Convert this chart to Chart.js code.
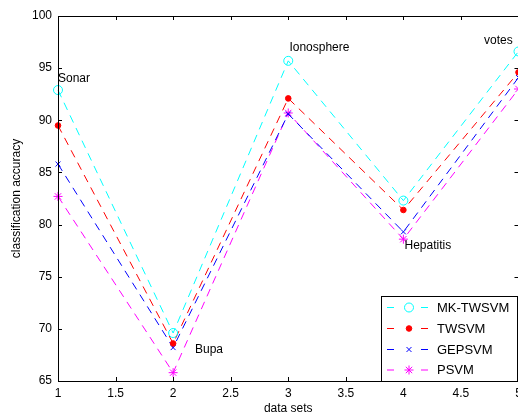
<!DOCTYPE html>
<html>
<head>
<meta charset="utf-8">
<script src="https://cdn.jsdelivr.net/npm/chart.js@4/dist/chart.umd.min.js"></script>
<style>
html,body{margin:0;padding:0;background:#fff;overflow:hidden;}
#wrap{width:524px;height:416px;}
</style>
</head>
<body>
<div id="wrap"><canvas id="c" width="524" height="416"></canvas></div>
<script>
// ---- data ----
const xPositions = [1, 2, 3, 4, 5];
const dataSetNames = ['Sonar', 'Bupa', 'Ionosphere', 'Hepatitis', 'votes'];
const mkTwsvm = [92.9, 69.6, 95.7, 82.3, 96.6];
const twsvm   = [89.5, 68.6, 92.1, 81.4, 94.6];
const gepsvm  = [85.8, 68.2, 90.6, 79.3, 94.1];
const psvm    = [82.7, 65.8, 90.7, 78.6, 93.0];
const seriesNames = ['MK-TWSVM', 'TWSVM', 'GEPSVM', 'PSVM'];
// annotation anchors (data units) for the data set names
const nameAnchorX = [1.0, 2.19, 3.01, 4.01, 4.70];
const nameAnchorY = [93.95, 68.05, 96.95, 78.0, 97.6];

const FONT = 'Liberation Sans, Arial, Helvetica, sans-serif';
const colors = ['#00FFFF', '#FF0000', '#0000FF', '#FF00FF'];
const styles = [
  {pointStyle: 'circle', radius: 4.5, fill: false},
  {pointStyle: 'circle', radius: 2.8, fill: true},
  {pointStyle: 'crossRot', radius: 3.5, fill: false},
  {pointStyle: 'star', radius: 4.5, fill: false}
];
const allSeries = [mkTwsvm, twsvm, gepsvm, psvm];

const datasets = allSeries.map((vals, i) => ({
  label: seriesNames[i],
  data: xPositions.map((x, j) => ({x: x, y: vals[j]})),
  borderColor: colors[i],
  backgroundColor: colors[i],
  borderWidth: 1,
  borderDash: [8, 6],
  pointStyle: styles[i].pointStyle,
  pointRadius: styles[i].radius,
  pointBorderWidth: 1,
  pointBorderColor: colors[i],
  pointBackgroundColor: styles[i].fill ? colors[i] : 'rgba(0,0,0,0)',
  tension: 0,
  clip: false
}));

const framePlugin = {
  id: 'frame',
  afterDatasetsDraw(chart) {
    const {ctx, chartArea: a, scales} = chart;
    ctx.save();
    ctx.strokeStyle = '#000';
    ctx.lineWidth = 1;
    ctx.setLineDash([]);
    ctx.beginPath();
    ctx.rect(Math.round(a.left) + 0.5, Math.round(a.top) + 0.5, Math.round(a.right - a.left), Math.round(a.bottom - a.top));
    ctx.stroke();
    const tl = 4;
    ctx.beginPath();
    scales.x.ticks.forEach(t => {
      const px = Math.round(scales.x.getPixelForValue(t.value)) + 0.5;
      ctx.moveTo(px, a.bottom); ctx.lineTo(px, a.bottom - tl);
      ctx.moveTo(px, a.top); ctx.lineTo(px, a.top + tl);
    });
    scales.y.ticks.forEach(t => {
      const py = Math.round(scales.y.getPixelForValue(t.value)) + 0.5;
      ctx.moveTo(a.left, py); ctx.lineTo(a.left + tl, py);
      ctx.moveTo(a.right, py); ctx.lineTo(a.right - tl, py);
    });
    ctx.stroke();

    // data set names
    ctx.fillStyle = '#000';
    ctx.font = '12px ' + FONT;
    ctx.textAlign = 'left';
    ctx.textBaseline = 'middle';
    dataSetNames.forEach((n, i) => {
      ctx.fillText(n, scales.x.getPixelForValue(nameAnchorX[i]), scales.y.getPixelForValue(nameAnchorY[i]));
    });

    // legend
    const bx = 381, by = 296, bw = 136, bh = 85;
    ctx.fillStyle = '#fff';
    ctx.fillRect(bx, by, bw, bh);
    ctx.strokeStyle = '#000';
    ctx.strokeRect(bx + 0.5, by + 0.5, bw, bh);
    const rowY = [307, 328, 349, 369.5];
    seriesNames.forEach((n, i) => {
      const y = rowY[i];
      ctx.strokeStyle = colors[i];
      ctx.lineWidth = 1;
      ctx.beginPath();
      ctx.moveTo(387, y + 0.5); ctx.lineTo(394, y + 0.5);
      ctx.moveTo(421, y + 0.5); ctx.lineTo(428, y + 0.5);
      ctx.stroke();
      ctx.fillStyle = styles[i].fill ? colors[i] : 'rgba(0,0,0,0)';
      ctx.strokeStyle = colors[i];
      Chart.helpers.drawPoint(ctx, {pointStyle: styles[i].pointStyle, radius: styles[i].radius, borderWidth: 1, rotation: 0}, 409, y + 0.5);
      ctx.fillStyle = '#000';
      ctx.font = '13px ' + FONT;
      ctx.textAlign = 'left';
      ctx.textBaseline = 'middle';
      ctx.fillText(n, 437, y + 1);
    });
    ctx.restore();
  }
};

new Chart(document.getElementById('c'), {
  type: 'line',
  data: {datasets},
  plugins: [framePlugin],
  options: {
    responsive: false,
    animation: false,
    events: [],
    layout: {padding: {top: 16, right: 0.5, left: 0, bottom: 0}},
    plugins: {legend: {display: false}, tooltip: {enabled: false}},
    scales: {
      x: {
        type: 'linear', min: 1, max: 5,
        ticks: {stepSize: 0.5, color: '#000', font: {family: FONT, size: 12}, padding: 5, maxRotation: 0,
                callback: v => String(v)},
        grid: {display: false, drawTicks: false},
        border: {display: false},
        title: {display: true, text: 'data sets', color: '#000', font: {family: FONT, size: 12}, padding: {top: 0, bottom: 0}},
        afterFit(s) { s.height = 35; s.paddingLeft = 0; s.paddingRight = 0; }
      },
      y: {
        type: 'linear', min: 65, max: 100,
        ticks: {stepSize: 5, color: '#000', font: {family: FONT, size: 12}, padding: 6},
        grid: {display: false, drawTicks: false},
        border: {display: false},
        title: {display: true, text: 'classification accuracy', color: '#000', font: {family: FONT, size: 12}, padding: {top: 9, bottom: 0}},
        afterFit(s) { s.width = 58; s.paddingTop = 0; s.paddingBottom = 0; }
      }
    }
  }
});
</script>
</body>
</html>
